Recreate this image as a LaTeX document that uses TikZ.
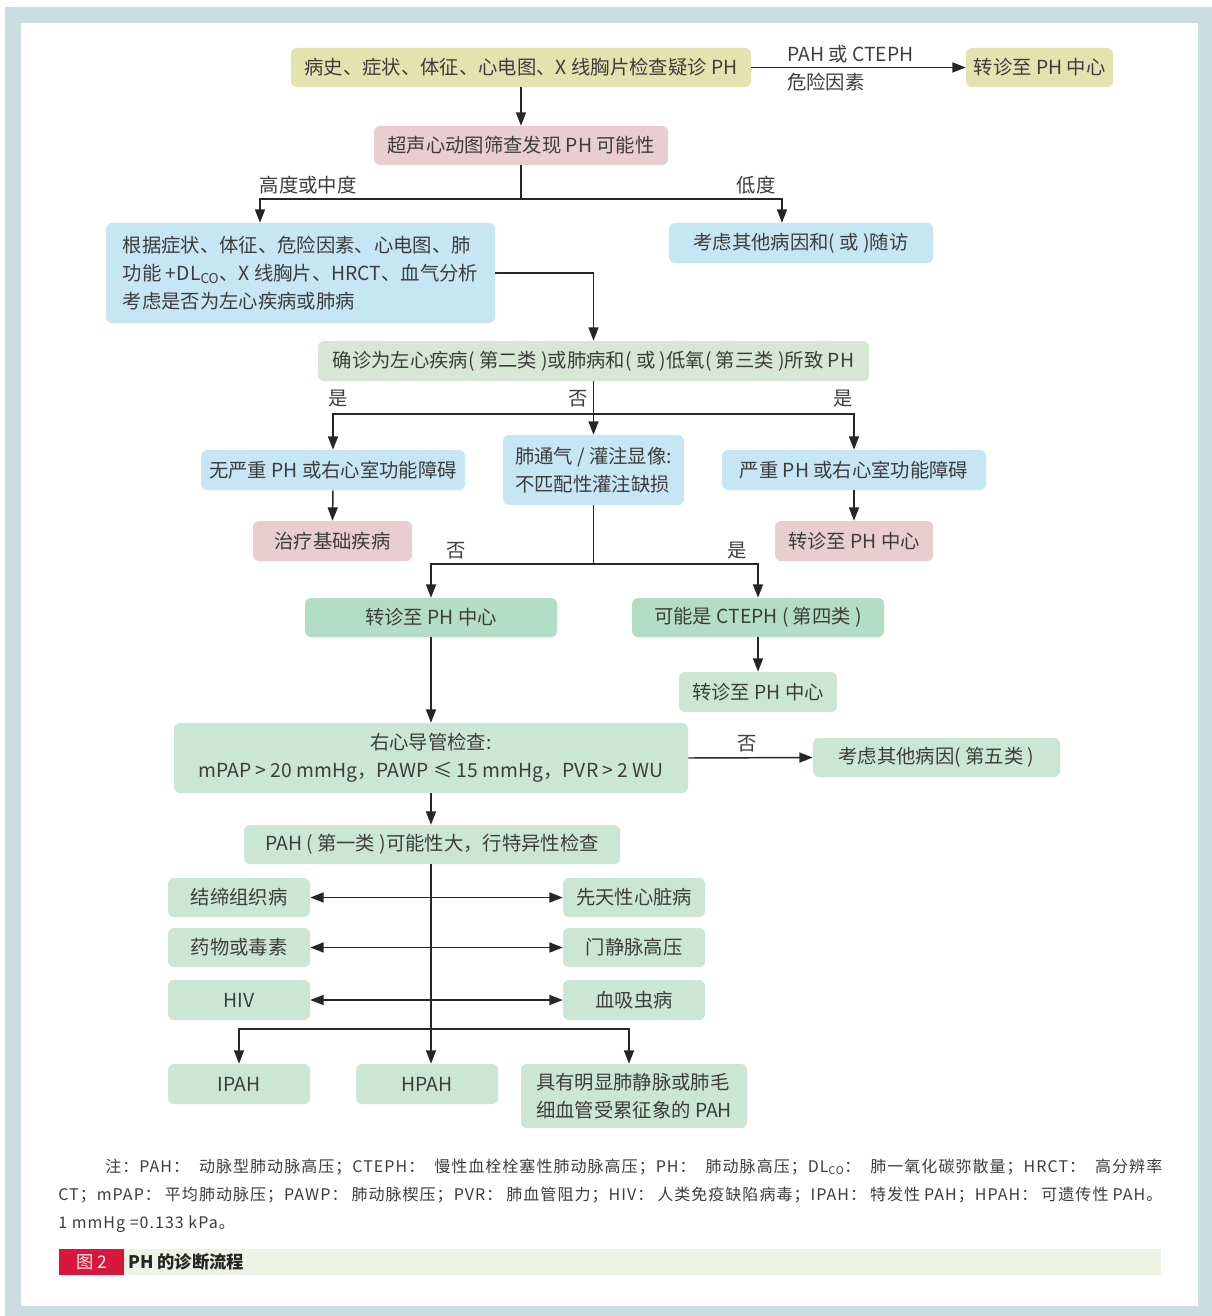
\documentclass[tikz,border=0pt]{standalone}
\usepackage{fontspec}
\setmainfont{Noto Sans CJK SC}
\newfontfamily\notefont[LetterSpace=6.5]{Noto Sans CJK SC}
\usetikzlibrary{arrows.meta}
\definecolor{framec}{HTML}{C9DEE1}
\definecolor{yelc}{HTML}{E2E3AE}
\definecolor{pinkc}{HTML}{E8CDD1}
\definecolor{bluec}{HTML}{C6E6F3}
\definecolor{grnA}{HTML}{D6E8D3}
\definecolor{grnB}{HTML}{B3DDC4}
\definecolor{grnC}{HTML}{CCE6D6}
\definecolor{txtc}{HTML}{3D3D3D}
\definecolor{linec}{HTML}{262626}
\definecolor{capred}{HTML}{D9163B}
\definecolor{capbar}{HTML}{EEF4E5}
\tikzset{
  bx/.style={rounded corners=4.5pt, inner sep=0pt, text=txtc, font=\fontsize{14.5}{21}\selectfont, align=center},
  sz/.style 2 args={minimum width=#1*0.75pt, minimum height=#2*0.75pt},
  arr/.style={draw=linec, line width=1.1pt, -{Triangle[length=10pt,width=7.5pt]}},
  darr/.style={draw=linec, line width=1.1pt, {Triangle[length=10pt,width=7.5pt]}-{Triangle[length=10pt,width=7.5pt]}},
  ln/.style={draw=linec, line width=1.1pt},
  lbl/.style={text=txtc, font=\fontsize{14.5}{18}\selectfont, inner sep=0pt},
  note/.style={text=txtc, font=\notefont\fontsize{12}{16}\selectfont, inner sep=0pt},
}
\begin{document}
\begin{tikzpicture}[x=0.75pt,y=-0.75pt]
\useasboundingbox (0,0) rectangle (1212,1316);
\fill[framec] (5,7) rectangle (1212,1316);
\fill[white] (21,23) rectangle (1198,1306);

% nodes
\node[bx, sz={460}{39}, fill=yelc] (n1) at (521,67.5) {病史、症状、体征、心电图、X 线胸片检查疑诊 PH};
\node[bx, sz={147}{39}, fill=yelc] (n2) at (1039.5,67.5) {转诊至 PH 中心};
\node[bx, sz={294}{39}, fill=pinkc] (n3) at (521,145.5) {超声心动图筛查发现 PH 可能性};
\node[bx, sz={389}{100}, fill=bluec, align=left] (n4) at (300.5,273) {根据症状、体征、危险因素、心电图、肺\\功能 +DL\textsubscript{CO}、X 线胸片、HRCT、血气分析\\考虑是否为左心疾病或肺病};
\node[bx, sz={264}{40}, fill=bluec] (n5) at (801,243) {考虑其他病因和( 或 )随访};
\node[bx, sz={551}{40}, fill=grnA] (n6) at (593.5,361) {确诊为左心疾病( 第二类 )或肺病和( 或 )低氧( 第三类 )所致 PH};
\node[bx, sz={264}{40}, fill=bluec] (n7) at (333,470) {无严重 PH 或右心室功能障碍};
\node[bx, sz={181}{70}, fill=bluec, align=left] (n8) at (593.5,470) {肺通气 / 灌注显像:\\不匹配性灌注缺损};
\node[bx, sz={264}{40}, fill=bluec] (n9) at (854,470) {严重 PH 或右心室功能障碍};
\node[bx, sz={159}{40}, fill=pinkc] (n10) at (332.5,541) {治疗基础疾病};
\node[bx, sz={158}{40}, fill=pinkc] (n11) at (854,541) {转诊至 PH 中心};
\node[bx, sz={252}{39}, fill=grnB] (n12) at (431,617.5) {转诊至 PH 中心};
\node[bx, sz={252}{39}, fill=grnB] (n13) at (758,617.5) {可能是 CTEPH ( 第四类 )};
\node[bx, sz={158}{40}, fill=grnC] (n14) at (758,692) {转诊至 PH 中心};
\node[bx, sz={514}{70}, fill=grnC] (n15) at (431,758) {右心导管检查:\\mPAP > 20 mmHg，PAWP ≤ 15 mmHg，PVR > 2 WU};
\node[bx, sz={247}{39}, fill=grnC] (n16) at (936.5,757.5) {考虑其他病因( 第五类 )};
\node[bx, sz={376}{39}, fill=grnC] (n17) at (432,844.5) {PAH ( 第一类 )可能性大，行特异性检查};
\node[bx, sz={142}{39}, fill=grnC] (L1) at (239,897.5) {结缔组织病};
\node[bx, sz={142}{39}, fill=grnC] (L2) at (239,947.5) {药物或毒素};
\node[bx, sz={142}{40}, fill=grnC] (L3) at (239,1000) {HIV};
\node[bx, sz={142}{39}, fill=grnC] (R1) at (634,897.5) {先天性心脏病};
\node[bx, sz={142}{39}, fill=grnC] (R2) at (634,947.5) {门静脉高压};
\node[bx, sz={142}{40}, fill=grnC] (R3) at (634,1000) {血吸虫病};
\node[bx, sz={142}{40}, fill=grnC] (B1) at (239,1084) {IPAH};
\node[bx, sz={142}{40}, fill=grnC] (B2) at (427,1084) {HPAH};
\node[bx, sz={226}{64}, fill=grnC, align=left] (B3) at (634,1096) {具有明显肺静脉或肺毛\\细血管受累征象的 PAH};

% junction coordinates
\coordinate (j1L) at (260,199);
\coordinate (j1R) at (782,199);
\coordinate (j2) at (593.5,414);
\coordinate (j3) at (593.5,564);
\coordinate (j4) at (431,1029);

% connectors
\draw[arr] (n1.east) -- (n2.west);
\draw[arr] (n1.south) -- (n3.north);
\draw[arr] (n3.south) |- (j1L) -- (j1L |- n4.north);
\draw[arr] (n3.south) |- (j1R) -- (j1R |- n5.north);
\draw[arr] (n4.east) -| (n6.north);
\draw[arr] (n6.south) -- (n8.north);
\draw[arr] (j2) -| (n7.north);
\draw[arr] (j2) -| (n9.north);
\draw[arr] (n7.south) -- (n10.north);
\draw[arr] (n9.south) -- (n11.north);
\draw[ln] (n8.south) -- (j3);
\draw[arr] (j3) -| (n12.north);
\draw[arr] (j3) -| (n13.north);
\draw[arr] (n13.south) -- (n14.north);
\draw[arr] (n12.south) -- (n15.north);
\draw[arr] (n15.east) -- (n16.west);
\draw[arr] (n15.south) -- (n15.south |- n17.north);
\draw[arr] (n17.south -| j4) -- (j4 |- B2.north);
\draw[arr] (j4) -| (B1.north);
\draw[arr] (j4) -| ([xshift=-3.75pt]B3.north);
\draw[darr] (L1.east) -- (R1.west);
\draw[darr] (L2.east) -- (R2.west);
\draw[darr] (L3.east) -- (R3.west);

% labels
\node[lbl, anchor=west] (t1) at (787,54) {PAH 或 CTEPH};
\node[lbl, anchor=west] (t2) at (787,82) {危险因素};
\node[lbl] (t3) at (308,185) {高度或中度};
\node[lbl] (t4) at (756,185) {低度};
\node[lbl] (t5) at (338,399) {是};
\node[lbl] (t6) at (578,399) {否};
\node[lbl] (t7) at (843,399) {是};
\node[lbl] (t8) at (456,551) {否};
\node[lbl] (t9) at (737,551) {是};
\node[lbl] (t10) at (747,744) {否};

% notes
\node[note, anchor=base west] (note1) at (105,1172) {\makebox[792.75pt][s]{注：PAH： 动脉型肺动脉高压；CTEPH： 慢性血栓栓塞性肺动脉高压；PH： 肺动脉高压；DL\textsubscript{CO}： 肺一氧化碳弥散量；HRCT： 高分辨率}};
\node[note, anchor=base west] (note2) at (58,1200) {\makebox[828pt][s]{CT；mPAP： 平均肺动脉压；PAWP： 肺动脉楔压；PVR： 肺血管阻力；HIV： 人类免疫缺陷病毒；IPAH： 特发性 PAH；HPAH： 可遗传性 PAH。}};
\node[note, anchor=base west] (note3) at (58,1228) {1 mmHg =0.133 kPa。};

% caption
\node[fill=capbar, minimum width=777.75pt, minimum height=19.5pt, inner sep=0pt] (capbg) at (642.5,1262) {};
\node[fill=capred, minimum width=48.75pt, minimum height=19.5pt, inner sep=0pt, text=white, font=\fontsize{13}{16}\selectfont] (cap1) at (91.5,1262) {图 2};
\node[anchor=west, inner sep=0pt, text=black!85, font=\bfseries\fontsize{13}{16}\selectfont] (cap2) at (128,1262) {PH 的诊断流程};
\end{tikzpicture}
\end{document}
